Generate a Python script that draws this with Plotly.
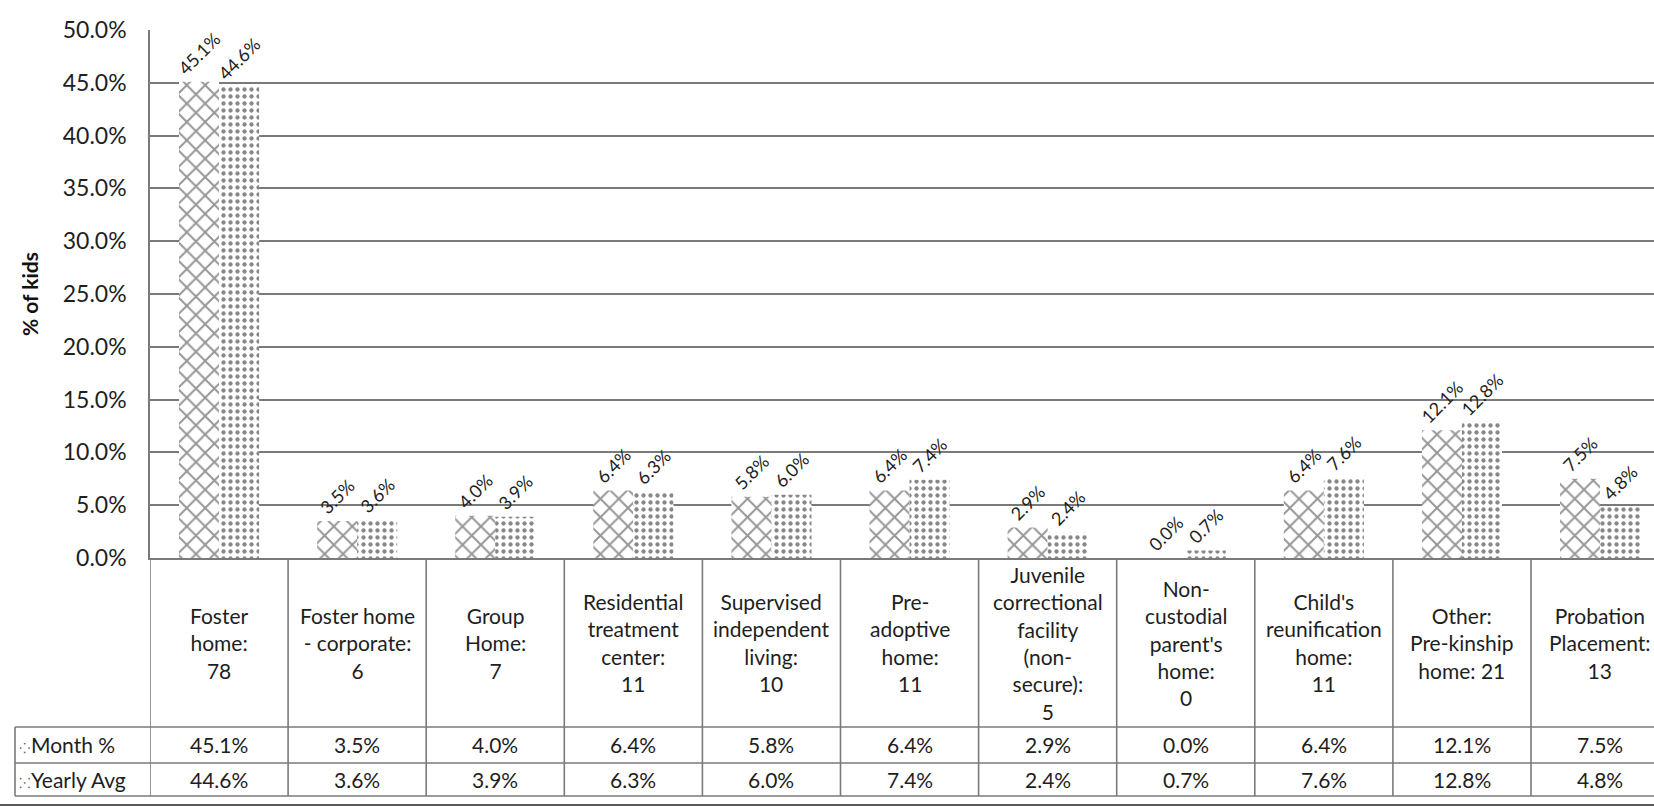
import plotly.graph_objects as go

# ---- data ----
placement_labels = [
    "Foster<br>home:<br>78",
    "Foster home<br>- corporate:<br>6",
    "Group<br>Home:<br>7",
    "Residential<br>treatment<br>center:<br>11",
    "Supervised<br>independent<br>living:<br>10",
    "Pre-<br>adoptive<br>home:<br>11",
    "Juvenile<br>correctional<br>facility<br>(non-<br>secure):<br>5",
    "Non-<br>custodial<br>parent's<br>home:<br>0",
    "Child's<br>reunification<br>home:<br>11",
    "Other:<br>Pre-kinship<br>home: 21",
    "Probation<br>Placement:<br>13",
]
month_pct = [0.451, 0.035, 0.040, 0.064, 0.058, 0.064, 0.029, 0.000, 0.064, 0.121, 0.075]
yearly_avg = [0.446, 0.036, 0.039, 0.063, 0.060, 0.074, 0.024, 0.007, 0.076, 0.128, 0.048]
series_names = ["Month %", "Yearly Avg"]
y_ticks = [0, 0.05, 0.10, 0.15, 0.20, 0.25, 0.30, 0.35, 0.40, 0.45, 0.50]
y_title = "% of kids"

# ---- layout constants (pixels) ----
W, H = 1654, 810
L, R, T = 150, 0, 30
ZERO_PX = 558
PH = ZERO_PX - T
B = H - ZERO_PX

def py(p):
    return (ZERO_PX - p) / PH

def px_x(p):
    return (p - L) / (W - L - R)

FONT = "Lato, 'Open Sans', sans-serif"
TXT = "#1e1e1e"
LINE = "#7a7a7a"

xs = list(range(len(placement_labels)))

fig = go.Figure()
fig.add_trace(go.Bar(
    x=xs, y=month_pct, name=series_names[0],
    marker=dict(color="white", line=dict(width=0),
                pattern=dict(shape="x", fgcolor="#2e2e2e", bgcolor="white", size=13, solidity=0.28)),
    texttemplate="%{y:.1%}", textposition="outside", textangle=-45,
    textfont=dict(family=FONT, size=18, color=TXT), cliponaxis=False, constraintext="none",
))
fig.add_trace(go.Bar(
    x=xs, y=yearly_avg, name=series_names[1],
    marker=dict(color="white", line=dict(width=0),
                pattern=dict(shape=".", fgcolor="#111111", bgcolor="white", size=7, solidity=0.3)),
    texttemplate="%{y:.1%}", textposition="outside", textangle=-45,
    textfont=dict(family=FONT, size=18, color=TXT), cliponaxis=False, constraintext="none",
))

n = len(placement_labels)
col_w_px = 138.1
x_end = -0.5 + (W - L - R) / col_w_px

hdr_bot = py(727)
row_sep = py(763)
tbl_bot = py(796)
bottom_line = py(805)
leg_left = px_x(15)

shapes = []
for i in range(n + 1):
    shapes.append(dict(type="line", xref="x", yref="paper", x0=i - 0.5, x1=i - 0.5,
                       y0=0, y1=tbl_bot, line=dict(color=LINE, width=1.6)))
for yy in [hdr_bot, row_sep, tbl_bot]:
    shapes.append(dict(type="line", xref="paper", yref="paper", x0=leg_left, x1=1,
                       y0=yy, y1=yy, line=dict(color=LINE, width=1.6)))
shapes.append(dict(type="line", xref="paper", yref="paper", x0=leg_left, x1=leg_left,
                   y0=hdr_bot, y1=tbl_bot, line=dict(color=LINE, width=1.6)))
shapes.append(dict(type="line", xref="paper", yref="paper", x0=-0.11, x1=1.0,
                   y0=bottom_line, y1=bottom_line, line=dict(color="#5a5a5a", width=2)))

annotations = []
for i, lab in enumerate(placement_labels):
    annotations.append(dict(x=i, xref="x", y=(0 + hdr_bot) / 2, yref="paper", text=lab,
                            showarrow=False, xanchor="center", yanchor="middle", align="center",
                            font=dict(family=FONT, size=21, color=TXT)))
    annotations.append(dict(x=i, xref="x", y=(hdr_bot + row_sep) / 2, yref="paper",
                            text=f"{month_pct[i]:.1%}", showarrow=False, xanchor="center",
                            yanchor="middle", font=dict(family=FONT, size=21, color=TXT)))
    annotations.append(dict(x=i, xref="x", y=(row_sep + tbl_bot) / 2, yref="paper",
                            text=f"{yearly_avg[i]:.1%}", showarrow=False, xanchor="center",
                            yanchor="middle", font=dict(family=FONT, size=21, color=TXT)))

for name, yy, glyph in [(series_names[0], (hdr_bot + row_sep) / 2, "⁘"),
                        (series_names[1], (row_sep + tbl_bot) / 2, "⁙")]:
    annotations.append(dict(x=px_x(17), xref="paper", y=yy, yref="paper",
                            text=f"<span style='font-size:14px;color:#666'>{glyph}</span>{name}",
                            showarrow=False, xanchor="left", yanchor="middle",
                            font=dict(family=FONT, size=21, color=TXT)))

fig.update_layout(
    width=W, height=H,
    margin=dict(l=L, r=R, t=T, b=B, autoexpand=False),
    paper_bgcolor="white", plot_bgcolor="white",
    barmode="group", bargap=0.42, bargroupgap=0,
    showlegend=False,
    shapes=shapes, annotations=annotations,
    font=dict(family=FONT, color=TXT),
)
fig.update_xaxes(range=[-0.5, x_end], showticklabels=False, showgrid=False, zeroline=False,
                 showline=True, linecolor=LINE, linewidth=1.6, automargin=False, fixedrange=True)
fig.update_yaxes(range=[0, 0.5], tickvals=y_ticks, tickformat=".1%",
                 tickfont=dict(family=FONT, size=23, color=TXT),
                 showgrid=True, gridcolor=LINE, gridwidth=1.6, zeroline=False,
                 showline=True, linecolor=LINE, linewidth=1.6,
                 ticklabelstandoff=17, automargin=False,
                 title=dict(text=f"<b>{y_title}</b>", font=dict(family=FONT, size=21, color="#111"),
                            standoff=18))

fig.write_html("out.html")
